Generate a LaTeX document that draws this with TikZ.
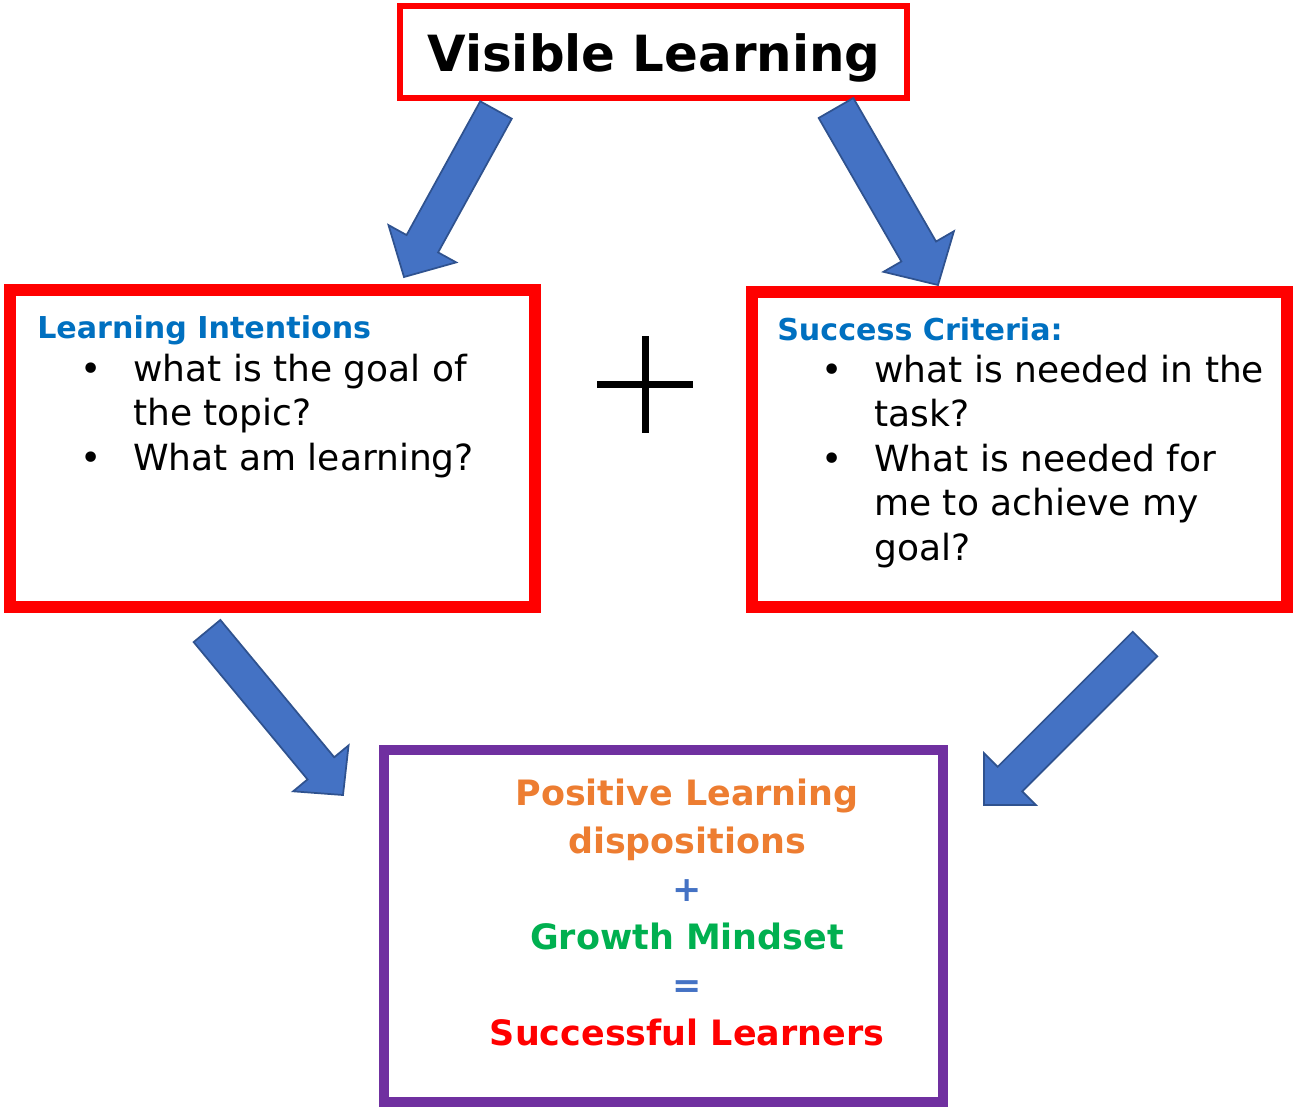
\documentclass[tikz,border=0pt]{standalone}
\usepackage{fontspec}
\setmainfont{DejaVu Sans}
\usetikzlibrary{calc}
\definecolor{boxred}{HTML}{FF0000}
\definecolor{boxpurple}{HTML}{7030A0}
\definecolor{headblue}{HTML}{0070C0}
\definecolor{arrfill}{HTML}{4472C4}
\definecolor{arrline}{HTML}{2F528F}
\definecolor{txtorange}{HTML}{ED7D31}
\definecolor{txtgreen}{HTML}{00B050}
\newcommand\blockarrow[5]{% from, to, shaft half, head half, head length
  \coordinate (#1hb) at ($(#2)!#5!(#1)$);
  \filldraw[arrowstyle] ($(#1)!#3!90:(#2)$) -- ($(#1hb)!#3!90:(#2)$) -- ($(#1hb)!#4!90:(#2)$) -- (#2)
     -- ($(#1hb)!#4!-90:(#2)$) -- ($(#1hb)!#3!-90:(#2)$) -- ($(#1)!#3!-90:(#2)$) -- cycle;
}
\begin{document}
\begin{tikzpicture}[x=0.75pt,y=-0.75pt,
  redbox/.style={draw=boxred, fill=white, inner sep=0pt},
  arrowstyle/.style={fill=arrfill, draw=arrline, line width=1.3pt, line join=miter},
  bodytxt/.style={font=\fontsize{27}{32}\selectfont, anchor=base west, inner sep=0pt},
  headtxt/.style={font=\fontsize{22.6}{27}\selectfont\bfseries, text=headblue, anchor=base west, inner sep=0pt},
  bottxt/.style={font=\fontsize{26.2}{31}\selectfont\bfseries, anchor=base, inner sep=0pt},
  bul/.style={font=\fontsize{27}{32}\selectfont, anchor=base, inner sep=0pt}]
\useasboundingbox (0,0) rectangle (1294,1108);
\fill[white] (0,0) rectangle (1294,1108);

% boxes
\node[redbox, line width=4.5pt, minimum width=380.25pt, minimum height=69pt] (title) at (653.5,52) {};
\node[redbox, line width=9pt, minimum width=393.75pt, minimum height=237.75pt] (li) at (272.5,448.5) {};
\node[redbox, line width=9pt, minimum width=401.25pt, minimum height=236.25pt] (sc) at (1019.5,449.5) {};
\node[draw=boxpurple, fill=white, line width=7.5pt, inner sep=0pt, minimum width=419.25pt, minimum height=264pt] (pl) at (663.5,926) {};

% title
\node[font=\fontsize{37.4}{44}\selectfont\bfseries, inner sep=0pt, anchor=base] (titletxt) at (654,71) {Visible Learning};

% left box text
\node[headtxt] (lihead) at (37,338) {Learning Intentions};
\node[bul] (lib1) at (91,381) {\textbullet};
\node[bodytxt] (lil1) at (133,381) {what is the goal of};
\node[bodytxt] (lil2) at (133,425) {the topic?};
\node[bul] (lib2) at (91,470) {\textbullet};
\node[bodytxt] (lil3) at (133,470) {What am learning?};

% right box text
\node[headtxt] (schead) at (777,340) {Success Criteria:};
\node[bul] (scb1) at (832,382) {\textbullet};
\node[bodytxt] (scl1) at (874,382) {what is needed in the};
\node[bodytxt] (scl2) at (874,426) {task?};
\node[bul] (scb2) at (832,471) {\textbullet};
\node[bodytxt] (scl3) at (874,471) {What is needed for};
\node[bodytxt] (scl4) at (874,515) {me to achieve my};
\node[bodytxt] (scl5) at (874,560) {goal?};

% plus sign
\draw[line width=5.25pt] (597,384) -- (693,384);
\draw[line width=5.25pt] (645,336) -- (645,433);

% bottom text
\node[bottxt, text=txtorange] (pb1) at (687,805) {Positive Learning};
\node[bottxt, text=txtorange] (pb2) at (687,853) {dispositions};
\node[bottxt, text=arrfill] (pb3) at (687,901) {+};
\node[bottxt, text=txtgreen] (pb4) at (687,949) {Growth Mindset};
\node[bottxt, text=arrfill] (pb5) at (687,997) {=};
\node[bottxt, text=boxred] (pb6) at (687,1045) {Successful Learners};

% arrows
\coordinate (a1s) at (496,110);  \coordinate (a1e) at (404,277);
\coordinate (a2s) at (836,108);  \coordinate (a2e) at (938,285);
\coordinate (a3s) at (207,631);  \coordinate (a3e) at (343,795);
\coordinate (a4s) at (1145,644); \coordinate (a4e) at (984,805);
\blockarrow{a1s}{a1e}{13.5pt}{29pt}{28.5pt}
\blockarrow{a2s}{a2e}{15pt}{30.5pt}{29pt}
\blockarrow{a3s}{a3e}{13pt}{27pt}{26pt}
\blockarrow{a4s}{a4e}{13pt}{27.5pt}{27.5pt}
\end{tikzpicture}
\end{document}
